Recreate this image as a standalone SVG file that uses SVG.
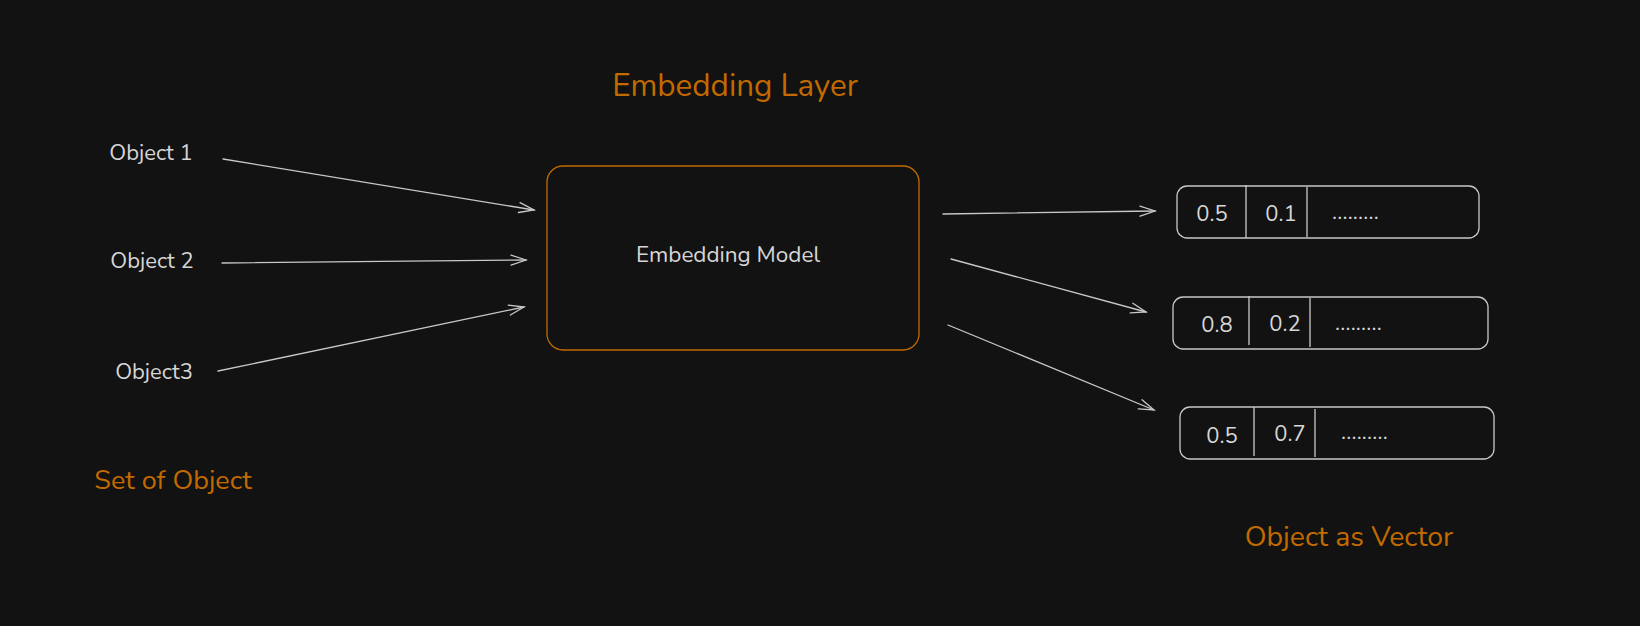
<svg xmlns="http://www.w3.org/2000/svg" width="1640" height="626" viewBox="0 0 1640 626">
<defs>
<style>
.bg{fill:#121212}
.t{font-family:"Nunito","Open Sans","Noto Sans",sans-serif;fill:#d6d6d6}
.o{font-family:"Nunito","Open Sans","Noto Sans",sans-serif;fill:#c26a00}
.n{font-family:"Nunito","Open Sans","Noto Sans",sans-serif;fill:#d6d6d6;font-size:22px}
.d{font-family:"Nunito","Open Sans","Noto Sans",sans-serif;fill:#d6d6d6;font-size:22px;letter-spacing:0.2px}
.ln{stroke:#c8c8c8;stroke-width:1.3;fill:none;stroke-linecap:round}
.vb{stroke:#c8c8c8;stroke-width:1.3;fill:none}
</style>
<marker id="ah" markerWidth="18" markerHeight="14" refX="16" refY="7" orient="auto" markerUnits="userSpaceOnUse">
<path d="M1,2 L16,7 L1,12" fill="none" stroke="#c8c8c8" stroke-width="1.3" stroke-linecap="round"/>
</marker>
</defs>
<rect class="bg" x="0" y="0" width="1640" height="626"/>

<text class="o" x="735" y="96" font-size="31.4" text-anchor="middle">Embedding Layer</text>
<text class="o" x="173" y="489" font-size="27" text-anchor="middle">Set of Object</text>
<text class="o" x="1349" y="546" font-size="28.4" text-anchor="middle">Object as Vector</text>

<g id="obj1"><text class="t" x="151" y="160" font-size="22" text-anchor="middle">Object 1</text></g>
<g id="obj2"><text class="t" x="152" y="268" font-size="22" text-anchor="middle">Object 2</text></g>
<g id="obj3"><text class="t" x="154" y="379" font-size="22" text-anchor="middle">Object3</text></g>

<g id="model">
<rect x="547" y="166" width="372" height="184" rx="16" fill="none" stroke="#c26a00" stroke-width="1.3"/>
<text class="t" x="728" y="262" font-size="22.5" text-anchor="middle">Embedding Model</text>
</g>

<g id="vec1">
<rect class="vb" x="1177" y="186" width="302" height="52" rx="10"/>
<path class="vb" d="M1246,185 V238 M1307,187 V237"/>
<text class="n" x="1212" y="221" text-anchor="middle">0.5</text>
<text class="n" x="1281" y="221" text-anchor="middle">0.1</text>
<text class="d" x="1332" y="219">.........</text>
</g>
<g id="vec2">
<rect class="vb" x="1173" y="297" width="315" height="52" rx="10"/>
<path class="vb" d="M1249,296 V345 M1310,298 V347"/>
<text class="n" x="1217" y="332" text-anchor="middle">0.8</text>
<text class="n" x="1285" y="331" text-anchor="middle">0.2</text>
<text class="d" x="1335" y="330">.........</text>
</g>
<g id="vec3">
<rect class="vb" x="1180" y="407" width="314" height="52" rx="10"/>
<path class="vb" d="M1254,407 V456 M1315,409 V457"/>
<text class="n" x="1222" y="443" text-anchor="middle">0.5</text>
<text class="n" x="1290" y="441" text-anchor="middle">0.7</text>
<text class="d" x="1341" y="439">.........</text>
</g>

<g id="connectors">
<line class="ln" x1="223" y1="159" x2="534" y2="210" marker-end="url(#ah)"/>
<line class="ln" x1="222" y1="263" x2="526" y2="260" marker-end="url(#ah)"/>
<line class="ln" x1="218" y1="371" x2="524" y2="307" marker-end="url(#ah)"/>
<line class="ln" x1="943" y1="214" x2="1155" y2="211" marker-end="url(#ah)"/>
<line class="ln" x1="951" y1="259" x2="1146" y2="312" marker-end="url(#ah)"/>
<line class="ln" x1="948" y1="325" x2="1154" y2="410" marker-end="url(#ah)"/>
</g>
</svg>
